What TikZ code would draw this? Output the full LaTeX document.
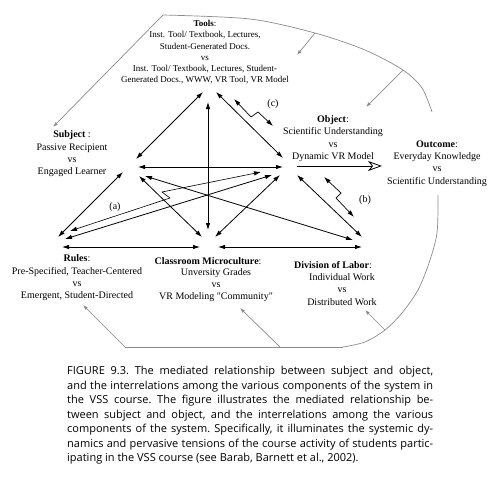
\documentclass[tikz,border=0pt]{standalone}
\usepackage{fontspec}
\setmainfont{Liberation Serif}
\newfontfamily\capfont{Open Sans}
\usetikzlibrary{arrows.meta}
\begin{document}
\begin{tikzpicture}[x=1pt,y=-1pt,
  lbl/.style={align=center, inner sep=0pt, font=\fontsize{10}{12.3}\selectfont},
  toolslbl/.style={align=center, inner sep=0pt, font=\fontsize{9}{11.2}\selectfont},
  tag/.style={inner sep=0pt, font=\fontsize{10}{12}\selectfont},
  dbl/.style={line width=0.8pt, {Latex[length=7pt,width=4.5pt]}-{Latex[length=7pt,width=4.5pt]}},
  zig/.style={line width=0.7pt, {Latex[length=7pt,width=4.5pt]}-{Latex[length=7pt,width=4.5pt]}},
  graya/.style={draw=black!45, line width=0.7pt, -{Latex[length=5pt,width=3.5pt]}},
  grayl/.style={draw=black!45, line width=0.7pt},
  openarrow/.style={line width=0.8pt, -{Stealth[open,length=14pt,width=10pt,inset=4pt]}},
]
\useasboundingbox (0,0) rectangle (496,499);
\fill[white] (0,0) rectangle (496,499);

% ---- text blocks
\node[toolslbl] (tools) at (205,52.2) {\textbf{Tools}:\\Inst. Tool/ Textbook, Lectures,\\Student-Generated Docs.\\vs\\Inst. Tool/ Textbook, Lectures, Student-\\Generated Docs., WWW, VR Tool, VR Model};
\node[lbl] (subject) at (72,154) {\textbf{Subject} :\\Passive Recipient\\vs\\Engaged Learner};
\node[lbl] (object) at (333,138.5) {\textbf{Object}:\\Scientific Understanding\\vs\\Dynamic VR Model};
\node[lbl] (outcome) at (437,163.5) {\textbf{Outcome}:\\Everyday Knowledge\\vs\\Scientific Understanding};
\node[lbl] (rules) at (77,278) {\textbf{Rules}:\\Pre-Specified, Teacher-Centered\\vs\\Emergent, Student-Directed};
\node[lbl] (classt) at (208,261) {\textbf{Classroom Microculture}:};
\node[lbl] (classb) at (216,285) {Unversity Grades\\vs\\VR Modeling \textquotedbl Community\textquotedbl};
\node[lbl] (divt) at (333,265) {\textbf{Division of Labor}:};
\node[lbl] (divb) at (342,289.5) {Individual Work\\vs\\Distributed Work};
\node[tag] (la) at (115,207) {(a)};
\node[tag] (lb) at (365,200) {(b)};
\node[tag] (lc) at (273,104) {(c)};

% ---- end points
\coordinate (ST1) at (136,159); \coordinate (ST2) at (203,92);
\coordinate (TO1) at (216,92); \coordinate (TO2) at (283,158);
\coordinate (TC1) at (208,102); \coordinate (TC2) at (208,230);
\coordinate (SO1) at (138,167); \coordinate (SO2) at (283,167);
\coordinate (RC1) at (62,247); \coordinate (RC2) at (200,247);
\coordinate (CD1) at (218,247); \coordinate (CD2) at (362,247);
\coordinate (RS1) at (58,237); \coordinate (RS2) at (123,172);
\coordinate (SC1) at (139,176); \coordinate (SC2) at (202,237);
\coordinate (OC1) at (280,175); \coordinate (OC2) at (215,237);
\coordinate (OD1) at (297,175); \coordinate (OD2) at (362,237);
\coordinate (SD1) at (145,176); \coordinate (SD2) at (353,240);
\coordinate (RO1) at (65,239); \coordinate (RO2) at (272,175);
\coordinate (A1) at (70,231); \coordinate (A2) at (170,198); \coordinate (A3) at (162,192); \coordinate (A4) at (261,172);
\coordinate (B1) at (324,177); \coordinate (B2) at (341,193); \coordinate (B3) at (336,198); \coordinate (B4) at (354,217);
\coordinate (C1) at (234,99); \coordinate (C2) at (251,117); \coordinate (C3) at (258,112); \coordinate (C4) at (273,126);
\coordinate (OUT1) at (297,166); \coordinate (OUT2) at (382,166);

% ---- black connectors
\draw[dbl] (ST1) -- (ST2);
\draw[dbl] (TO1) -- (TO2);
\draw[dbl] (TC1) -- (TC2);
\draw[dbl] (SO1) -- (SO2);
\draw[dbl] (RC1) -- (RC2);
\draw[dbl] (CD1) -- (CD2);
\draw[dbl] (RS1) -- (RS2);
\draw[dbl] (SC1) -- (SC2);
\draw[dbl] (OC1) -- (OC2);
\draw[dbl] (OD1) -- (OD2);
\draw[dbl] (SD1) -- (SD2);
\draw[dbl] (RO1) -- (RO2);
\draw[zig, line width=0.6pt] (A1) -- (A2) -- (A3) -- (A4);
\draw[zig] (B1) -- (B2) -- (B3) -- (B4);
\draw[zig] (C1) -- (C2) -- (C3) -- (C4);
\draw[openarrow] (OUT1) -- (OUT2);

% ---- gray outline
\coordinate (G0) at (163,15);
\coordinate (G1) at (315,33);
\coordinate (G2) at (403,70);
\coordinate (G3) at (385,330);
\coordinate (G4) at (343,347);
\coordinate (G5) at (280,347);
\coordinate (G6) at (125,347);
\draw[graya] (G0) -- (53,127);
\draw[grayl] plot[smooth] coordinates {(G0) (250,19) (G1) (365,50) (G2) (422,88) (432,112)};
\draw[grayl] plot[smooth] coordinates {(438,195) (437,233) (429,263) (418,290) (402,313) (G3) (365,342) (G4)};
\draw[grayl] (G4) -- (G6);
\draw[graya] (G1) -- (297,55);
\draw[graya] (G2) -- (366,107);
\draw[graya] (G6) -- (83,305);
\draw[graya] (G5) -- (240,308);
\draw[graya] (G3) -- (365,310);

% ---- caption
\node[anchor=north west, inner sep=0pt, align=left, font=\capfont\fontsize{11}{14.5}\selectfont\frenchspacing] (caption) at (67,366) {%
\makebox[366pt][s]{FIGURE 9.3. The mediated relationship between subject and object,}\\
\makebox[366pt][s]{and the interrelations among the various components of the system in}\\
\makebox[366pt][s]{the VSS course. The figure illustrates the mediated relationship be-}\\
\makebox[366pt][s]{tween subject and object, and the interrelations among the various}\\
\makebox[366pt][s]{components of the system. Specifically, it illuminates the systemic dy-}\\
\makebox[366pt][s]{namics and pervasive tensions of the course activity of students partic-}\\
ipating in the VSS course (see Barab, Barnett et al., 2002).};
\end{tikzpicture}
\end{document}
